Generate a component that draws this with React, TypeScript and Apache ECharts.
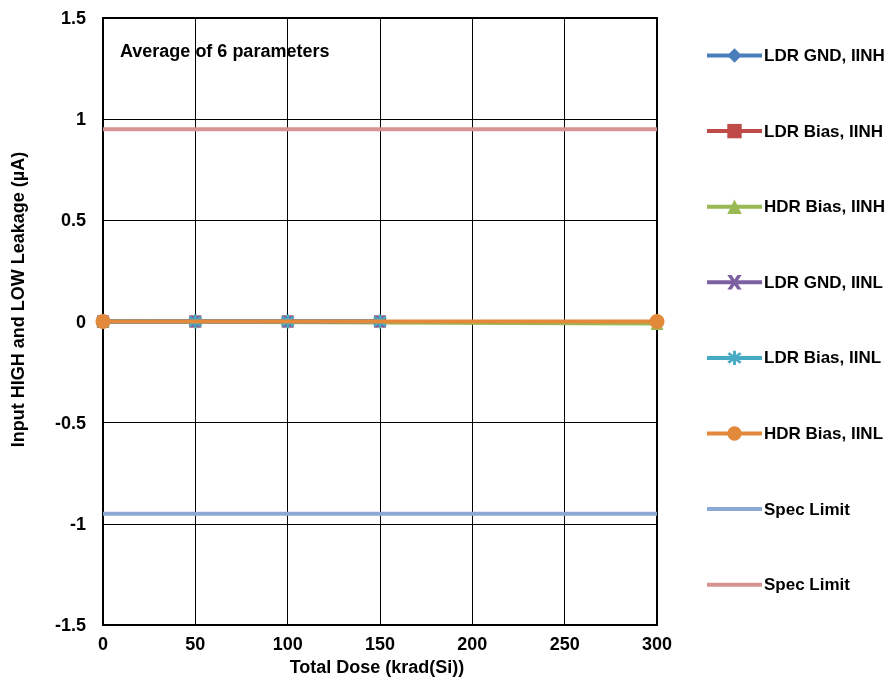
import React, { useEffect, useRef } from "react";
import * as echarts from "echarts";

const seriesNames = [
  "LDR GND, IINH",
  "LDR Bias, IINH",
  "HDR Bias, IINH",
  "LDR GND, IINL",
  "LDR Bias, IINL",
  "HDR Bias, IINL",
  "Spec Limit",
  "Spec Limit ",
];
const ldrDose = [0, 50, 100, 150];
const hdrDose = [0, 300];
const ldrGndIINH = [0.0, 0.0, 0.0, 0.0];
const ldrBiasIINH = [0.0, 0.0, 0.0, 0.0];
const hdrBiasIINH = [0.0, -0.01];
const ldrGndIINL = [0.0, 0.0, 0.0, 0.0];
const ldrBiasIINL = [0.0, 0.0, 0.0, 0.0];
const hdrBiasIINL = [0.0, 0.0];
const specDose = [0, 300];
const specLow = [-0.95, -0.95];
const specHigh = [0.95, 0.95];
const colors = ["#4A7EBB", "#BE4B48", "#98B954", "#7D60A0", "#46AAC5", "#E2893B", "#8EA8D6", "#D79392"];

const xPath = "path://M0,0 L3,0 L5,3 L7,0 L10,0 L6.5,5 L10,10 L7,10 L5,7 L3,10 L0,10 L3.5,5 Z";
const starPath =
  "path://M4,0 L6,0 L6,3 L8.5,1 L10,2.5 L7,4 L10,4 L10,6 L7,6 L10,7.5 L8.5,9 L6,7 L6,10 L4,10 L4,7 L1.5,9 L0,7.5 L3,6 L0,6 L0,4 L3,4 L0,2.5 L1.5,1 L4,3 Z";

const zip = (xs: number[], ys: number[]) => xs.map((x, i) => [x, ys[i]]);

export default function App() {
  const ref = useRef<HTMLDivElement>(null);
  useEffect(() => {
    const chart = echarts.init(ref.current!, undefined, { renderer: "svg" });
    const font = { fontFamily: "Arial", fontWeight: "bold" as const, fontSize: 18, color: "#000" };
    const mk = (i: number, xs: number[], ys: number[], symbol: string, size: number) => ({
      name: seriesNames[i],
      type: "line",
      data: zip(xs, ys),
      symbol,
      symbolSize: size,
      showSymbol: symbol !== "none",
      lineStyle: { color: colors[i], width: 4 },
      itemStyle: { color: colors[i] },
      z: 2 + i,
    });
    chart.setOption({
      animation: false,
      color: colors,
      grid: { left: 103, right: 239, top: 18, bottom: 56, show: true, borderColor: "#000", borderWidth: 2 },
      legend: {
        orient: "vertical",
        left: 705,
        top: 47,
        padding: 0,
        itemWidth: 55,
        itemHeight: 18,
        itemGap: 58.6,
        lineStyle: { width: 4 },
        textStyle: { ...font, fontSize: 17, padding: [0, 0, 0, -3] },
        data: seriesNames.map((n, i) =>
          i >= 6
            ? { name: n, itemStyle: { color: "rgba(0,0,0,0)", borderWidth: 0 }, lineStyle: { color: colors[i], width: 4 } }
            : { name: n, itemStyle: { color: colors[i] } }
        ),
        formatter: (n: string) => n.trim(),
      },
      xAxis: {
        type: "value",
        min: 0,
        max: 300,
        interval: 50,
        name: "Total Dose (krad(Si))",
        nameLocation: "middle",
        nameGap: 32,
        nameTextStyle: { ...font, padding: [0, 6, 0, 0] },
        axisLine: { show: true, onZero: false, lineStyle: { color: "#000", width: 2 } },
        axisTick: { show: false },
        axisLabel: { ...font, margin: 10 },
        splitLine: { show: true, lineStyle: { color: "#000", width: 1 } },
      },
      yAxis: {
        type: "value",
        min: -1.5,
        max: 1.5,
        interval: 0.5,
        name: "Input HIGH and LOW Leakage (µA)",
        nameLocation: "middle",
        nameGap: 76,
        nameTextStyle: { ...font, padding: [0, 0, 0, 44] },
        axisLine: { show: true, onZero: false, lineStyle: { color: "#000", width: 2 } },
        axisTick: { show: false },
        axisLabel: { ...font, margin: 17 },
        splitLine: { show: true, lineStyle: { color: "#000", width: 1 } },
      },
      graphic: [
        {
          type: "group",
          left: 108,
          top: 30,
          children: [
            { type: "rect", shape: { x: 0, y: 0, width: 236, height: 42 }, style: { fill: "#fff" } },
            {
              type: "text",
              x: 12,
              y: 21,
              style: {
                text: "Average of 6 parameters",
                fill: "#000",
                fontFamily: "Arial",
                fontWeight: "bold",
                fontSize: 18,
                verticalAlign: "middle",
              },
            },
          ],
        },
      ],
      series: [
        mk(0, ldrDose, ldrGndIINH, "diamond", 13),
        mk(1, ldrDose, ldrBiasIINH, "rect", 12),
        mk(2, hdrDose, hdrBiasIINH, "triangle", 13),
        mk(3, ldrDose, ldrGndIINL, xPath, 12),
        mk(4, ldrDose, ldrBiasIINL, starPath, 14),
        mk(5, hdrDose, hdrBiasIINL, "circle", 15),
        mk(6, specDose, specLow, "none", 0),
        mk(7, specDose, specHigh, "none", 0),
      ],
    });
    return () => chart.dispose();
  }, []);
  return <div ref={ref} style={{ position: "fixed", left: 0, top: 0, width: 896, height: 681 }} />;
}
